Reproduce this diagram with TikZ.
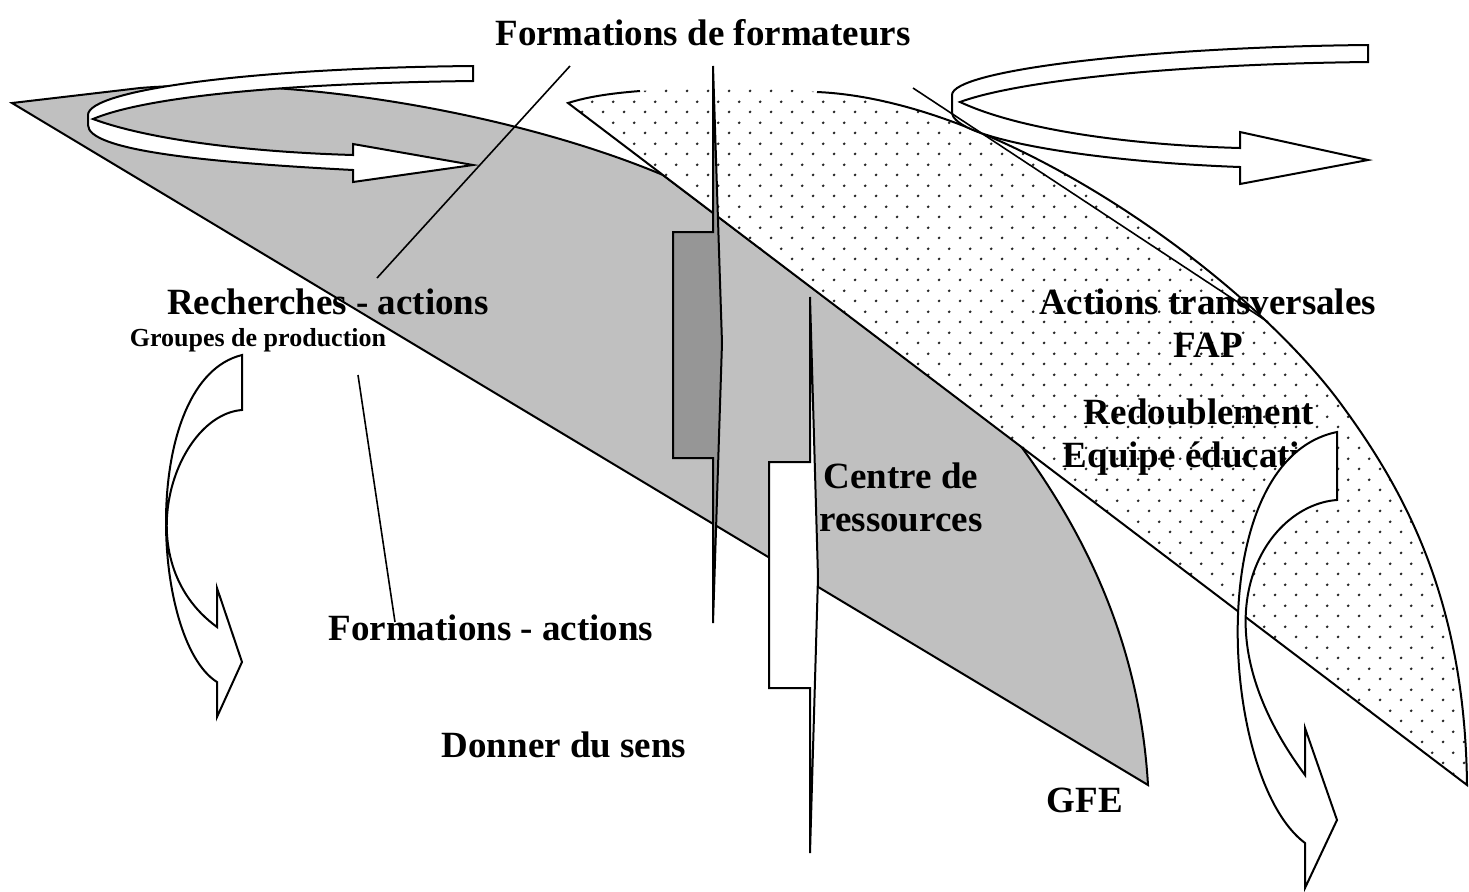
\documentclass[tikz,border=0pt]{standalone}
\usepackage{fontspec}
\setmainfont{Liberation Serif}
\usetikzlibrary{patterns}
\definecolor{lightshade}{RGB}{192,192,192}
\definecolor{darkshade}{RGB}{150,150,150}
\pgfdeclarepatternformonly{sparsedots}{\pgfpointorigin}{\pgfpoint{10.3pt}{10.3pt}}{\pgfpoint{10.3pt}{10.3pt}}{
  \pgfpathcircle{\pgfpoint{2.6pt}{2.6pt}}{0.75pt}
  \pgfpathcircle{\pgfpoint{7.75pt}{7.75pt}}{0.75pt}
  \pgfusepath{fill}}

\begin{document}
\begin{tikzpicture}[x=0.5pt,y=-0.5pt,line join=miter]
  \tikzstyle{outline}=[draw=black,line width=1pt]
  \tikzstyle{pointer}=[draw=black,line width=0.8pt]
  \tikzstyle{turnarrow}=[outline,fill=white]
  \tikzstyle{bigtext}=[font=\bfseries\fontsize{18.5}{21.5}\selectfont,align=center,inner sep=0pt]
  \tikzstyle{smalltext}=[font=\bfseries\fontsize{13}{15}\selectfont,inner sep=0pt]

  \useasboundingbox (0,0) rectangle (1469,891);

  % grey lens
  \path[outline,fill=lightshade] (12,103) -- (140,88)
    .. controls (300,75) and (520,115) .. (663,175) -- (1020,445)
    .. controls (1090,540) and (1140,650) .. (1148,785) -- cycle;

  % dotted lens
  \fill[white] (568,103) .. controls (590,96) and (615,93) .. (640,91)
    .. controls (700,86) and (760,86) .. (817,92)
    .. controls (1000,100) and (1240,270) .. (1338,400)
    .. controls (1405,490) and (1465,600) .. (1467,785) -- cycle;
  \fill[pattern=sparsedots,pattern color=black!85] (568,103) .. controls (590,96) and (615,93) .. (640,91)
    .. controls (700,86) and (760,86) .. (817,92)
    .. controls (1000,100) and (1240,270) .. (1338,400)
    .. controls (1405,490) and (1465,600) .. (1467,785) -- cycle;
  \draw[outline] (640,91) .. controls (615,93) and (590,96) .. (568,103) -- (1467,785)
    .. controls (1465,600) and (1405,490) .. (1338,400)
    .. controls (1240,270) and (1000,100) .. (817,92);

  % the two bars
  \path[outline,fill=darkshade] (713,66) -- (722,343) -- (713,623) -- (713,458)
    -- (673,458) -- (673,232) -- (713,232) -- cycle;
  \path[outline,fill=white] (810,297) -- (818,577) -- (810,853) -- (810,688)
    -- (769,688) -- (769,462) -- (810,462) -- cycle;

  \node[bigtext] (formateurs) at (703,33) {Formations de formateurs};
  \node[bigtext] (recherches) at (328,302) {Recherches - actions};
  \node[smalltext] (groupes) at (258,340) {Groupes de production};
  \node[bigtext] (formactions) at (491,628) {Formations - actions};
  \node[bigtext] (sens) at (564,745) {Donner du sens};
  \node[bigtext] (centre) at (901,497) {Centre de\\ressources};
  \node[bigtext] (transversales) at (1208,323) {Actions transversales\\FAP};
  \node[bigtext] (redoublement) at (1199,437) {Redoublement\\Equipe éducative};
  \node[bigtext] (gfe) at (1085,800) {GFE};

  % turning arrows
  \path[turnarrow] (473,66) -- (473,81) .. controls (300,83) and (150,95) .. (93,119)
    .. controls (150,140) and (250,152) .. (353,155) -- (353,144) -- (473,165)
    -- (353,182) -- (353,170) .. controls (200,162) and (88,150) .. (88,125)
    -- (88,115) .. controls (88,90) and (250,68) .. (473,66) -- cycle;
  \path[turnarrow] (1368,45) -- (1368,62) .. controls (1180,64) and (1020,80) .. (960,102)
    .. controls (1020,130) and (1130,145) .. (1240,148) -- (1240,132) -- (1368,160)
    -- (1240,184) -- (1240,167) .. controls (1100,162) and (952,140) .. (952,112)
    -- (952,95) .. controls (952,70) and (1150,47) .. (1368,45) -- cycle;
  \path[turnarrow] (242,355) -- (242,410) .. controls (175,415) and (125,560) .. (217,627)
    -- (217,588) -- (242,662) -- (217,717) -- (217,682)
    .. controls (150,640) and (140,380) .. (242,355) -- cycle;
  \path[turnarrow] (1337,432) -- (1337,500) .. controls (1265,505) and (1190,620) .. (1305,775)
    -- (1305,728) -- (1337,820) -- (1305,888) -- (1305,843)
    .. controls (1220,780) and (1200,460) .. (1337,432) -- cycle;

  % pointers
  \coordinate (ff top) at (570,66);
  \coordinate (ra foot) at (377,278);
  \coordinate (gp foot) at (358,375);
  \coordinate (fa head) at (395,622);
  \coordinate (at top) at (913,88);
  \coordinate (at foot) at (1268,322);
  \draw[pointer] (ff top) -- (ra foot);
  \draw[pointer] (gp foot) -- (fa head);
  \draw[pointer] (at top) -- (at foot);
\end{tikzpicture}
\end{document}
